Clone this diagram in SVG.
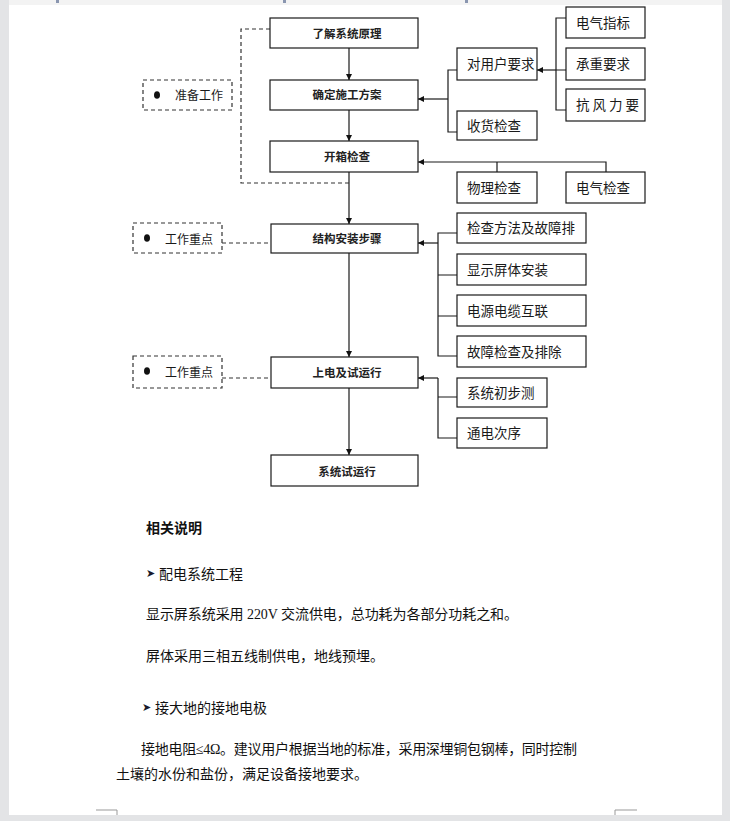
<svg xmlns="http://www.w3.org/2000/svg" width="730" height="821" viewBox="0 0 730 821">
<defs>
<style>
.box{fill:#fff;stroke:#1a1a1a;stroke-width:1.2}
.dbox{fill:#fff;stroke:#333;stroke-width:1.2;stroke-dasharray:4 3}
.ln{fill:none;stroke:#1a1a1a;stroke-width:1.2}
.dl{fill:none;stroke:#333;stroke-width:1.2;stroke-dasharray:4 3}
.mt{font-family:"Liberation Sans","Noto Sans CJK SC",sans-serif;font-size:11.5px;font-weight:bold;fill:#222;text-anchor:middle}
.st{font-family:"Liberation Sans","Noto Sans CJK SC",sans-serif;font-size:13.5px;fill:#1a1a1a}
.dt{font-family:"Liberation Sans","Noto Sans CJK SC",sans-serif;font-size:12px;fill:#1a1a1a}
.bt{font-family:"Liberation Serif","Noto Sans CJK SC",serif;font-size:14px;fill:#111}
.bu{font-family:"DejaVu Sans",sans-serif;font-size:11px;fill:#1a1a2a}
</style>
<marker id="ah" viewBox="0 0 10 10" refX="10" refY="5" markerWidth="6" markerHeight="6" markerUnits="userSpaceOnUse" orient="auto">
<path d="M0,0 L10,5 L0,10 Z" fill="#111"/>
</marker>
</defs>
<rect x="0" y="0" width="730" height="821" fill="#e3e4e6"/>
<rect x="9" y="0" width="713" height="5" fill="#f3f3f3"/>
<rect x="9" y="5" width="713" height="810" fill="#fff"/>
<rect x="56" y="0" width="3" height="3" fill="#8a96b0"/>
<rect x="283" y="0" width="3" height="3" fill="#8a96b0"/>
<rect x="465" y="0" width="3" height="3" fill="#8a96b0"/>
<path d="M96,810 H117 V815 M637,810 H615 V815" fill="none" stroke="#999" stroke-width="1"/>

<g id="connectors">
<path class="ln" d="M349,48 V80" marker-end="url(#ah)"/>
<path class="ln" d="M349,110 V141" marker-end="url(#ah)"/>
<path class="ln" d="M349,172 V224" marker-end="url(#ah)"/>
<path class="ln" d="M349,253 V357" marker-end="url(#ah)"/>
<path class="ln" d="M349,388 V455" marker-end="url(#ah)"/>
<path class="dl" d="M270,29 H241 V183 H349"/>
<path class="dl" d="M222,243 H271"/>
<path class="dl" d="M222,378 H271"/>
<path class="ln" d="M566,18 H556 V110 H566 M556,70 H566"/>
<path class="ln" d="M556,70 H537" marker-end="url(#ah)"/>
<path class="ln" d="M457,70 H448 V132 H457"/>
<path class="ln" d="M448,99 H418" marker-end="url(#ah)"/>
<path class="ln" d="M497,172 V162 M606,172 V162 H418" marker-end="url(#ah)"/>
<path class="ln" d="M457,233 H438 V356 H457 M438,275 H457 M438,316 H457"/>
<path class="ln" d="M438,243 H418" marker-end="url(#ah)"/>
<path class="ln" d="M457,397 H438 V438 H457 M438,378 V397"/>
<path class="ln" d="M438,378 H418" marker-end="url(#ah)"/>
</g>

<g id="n1"><rect class="box" x="270" y="18" width="148" height="30"/><text class="mt" x="347" y="38">了解系统原理</text></g>
<g id="n2"><rect class="box" x="270" y="80" width="148" height="30"/><text class="mt" x="347" y="99">确定施工方案</text></g>
<g id="n3"><rect class="box" x="270" y="141" width="148" height="31"/><text class="mt" x="347" y="161">开箱检查</text></g>
<g id="n4"><rect class="box" x="271" y="224" width="147" height="29"/><text class="mt" x="347" y="243">结构安装步骤</text></g>
<g id="n5"><rect class="box" x="271" y="357" width="147" height="31"/><text class="mt" x="347" y="377">上电及试运行</text></g>
<g id="n6"><rect class="box" x="271" y="455" width="147" height="31"/><text class="mt" x="347" y="476">系统试运行</text></g>

<g id="d1"><rect class="dbox" x="143" y="80" width="89" height="30"/><ellipse cx="157" cy="95" rx="3" ry="3.8" fill="#111"/><text class="dt" x="175" y="100">准备工作</text></g>
<g id="d2"><rect class="dbox" x="133" y="223" width="89" height="30"/><ellipse cx="147" cy="238" rx="3" ry="3.8" fill="#111"/><text class="dt" x="165" y="244">工作重点</text></g>
<g id="d3"><rect class="dbox" x="133" y="356" width="89" height="32"/><ellipse cx="147" cy="371" rx="3" ry="3.8" fill="#111"/><text class="dt" x="165" y="377">工作重点</text></g>

<g id="s1"><rect class="box" x="566" y="7" width="79" height="31"/><text class="st" x="576" y="28">电气指标</text></g>
<g id="s2"><rect class="box" x="566" y="48" width="79" height="32"/><text class="st" x="576" y="69">承重要求</text></g>
<g id="s3"><rect class="box" x="566" y="89" width="79" height="32"/><text class="st" x="576" y="110" letter-spacing="3">抗风力要</text></g>
<g id="s4"><rect class="box" x="457" y="48" width="80" height="32"/><text class="st" x="467" y="69" font-size="12px">对用户要求</text></g>
<g id="s5"><rect class="box" x="457" y="111" width="80" height="29"/><text class="st" x="467" y="131">收货检查</text></g>
<g id="s6"><rect class="box" x="457" y="172" width="80" height="31"/><text class="st" x="467" y="193">物理检查</text></g>
<g id="s7"><rect class="box" x="566" y="172" width="79" height="31"/><text class="st" x="576" y="193">电气检查</text></g>
<g id="s8"><rect class="box" x="457" y="213" width="129" height="30"/><text class="st" x="467" y="233" font-size="14px">检查方法及故障排</text></g>
<g id="s9"><rect class="box" x="457" y="254" width="129" height="31"/><text class="st" x="467" y="275">显示屏体安装</text></g>
<g id="s10"><rect class="box" x="457" y="295" width="129" height="31"/><text class="st" x="467" y="316">电源电缆互联</text></g>
<g id="s11"><rect class="box" x="457" y="336" width="129" height="31"/><text class="st" x="467" y="357">故障检查及排除</text></g>
<g id="s12"><rect class="box" x="457" y="378" width="90" height="29"/><text class="st" x="467" y="398" font-size="14px">系统初步测</text></g>
<g id="s13"><rect class="box" x="457" y="418" width="90" height="30"/><text class="st" x="467" y="438">通电次序</text></g>

<g id="body">
<text class="bt" x="146" y="533" font-weight="bold" font-family="Liberation Sans,Noto Sans CJK SC,sans-serif">相关说明</text>
<text class="bu" x="146" y="577">➤</text><text class="bt" x="159" y="579">配电系统工程</text>
<text class="bt" x="146" y="619" textLength="372" lengthAdjust="spacing">显示屏系统采用 220V 交流供电，总功耗为各部分功耗之和。</text>
<text class="bt" x="146" y="661">屏体采用三相五线制供电，地线预埋。</text>
<text class="bu" x="142" y="711">➤</text><text class="bt" x="155" y="713">接大地的接地电极</text>
<text class="bt" x="141" y="754" textLength="436" lengthAdjust="spacing">接地电阻≤4Ω。建议用户根据当地的标准，采用深埋铜包钢棒，同时控制</text>
<text class="bt" x="116" y="779">土壤的水份和盐份，满足设备接地要求。</text>
</g>
</svg>
